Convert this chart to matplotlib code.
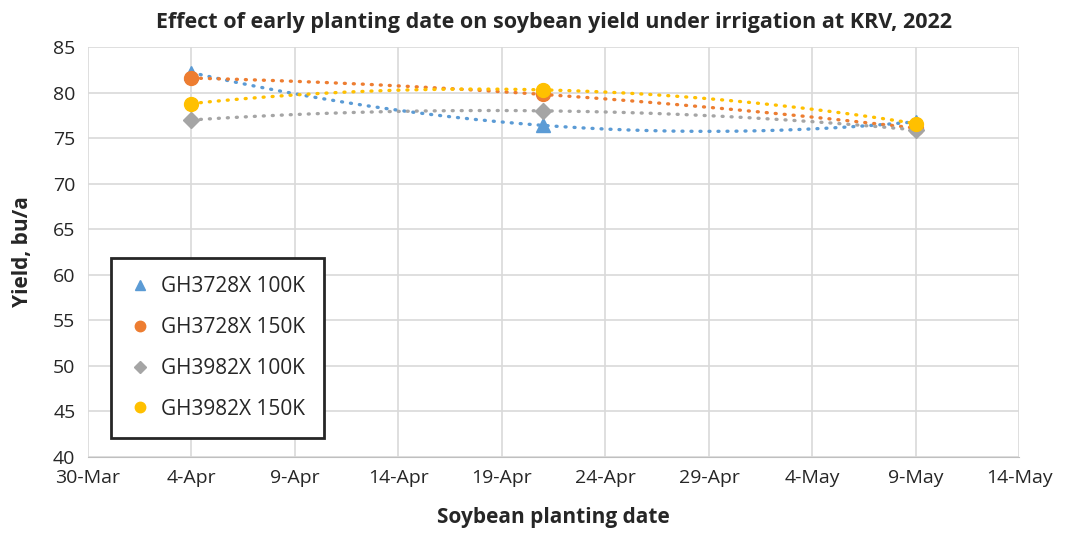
import datetime as dt
import numpy as np
import matplotlib
matplotlib.use("Agg")
import matplotlib.pyplot as plt
import matplotlib.dates as mdates

plt.rcParams['font.family'] = ['Open Sans', 'DejaVu Sans']

# data
dates = [dt.date(2022, 4, 4), dt.date(2022, 4, 21), dt.date(2022, 5, 9)]
names = ['GH3728X 100K', 'GH3728X 150K', 'GH3982X 100K', 'GH3982X 150K']
gh3728_100 = [82.2, 76.4, 76.8]
gh3728_150 = [81.6, 79.8, 76.1]
gh3982_100 = [77.0, 78.0, 75.9]
gh3982_150 = [78.8, 80.3, 76.6]

series = [gh3728_100, gh3728_150, gh3982_100, gh3982_150]
colors = ['#5B9BD5', '#ED7D31', '#A5A5A5', '#FFC000']
markers = ['^', 'o', 'D', 'o']
msizes = [10, 10, 8, 10]

fig = plt.figure(figsize=(10.72, 5.35), dpi=100)
ax = fig.add_axes([0.082, 0.146, 0.869, 0.766])

x = mdates.date2num(dates)
xs = np.linspace(x[0], x[-1], 200)

#trendlines (2nd order polynomial, dotted like excel)
for vals, c in zip(series, colors):
    coef = np.polyfit(x, vals, 2)
    ax.plot(xs, np.polyval(coef, xs), color=c, lw=2.4,
            linestyle=(0, (0.3, 2.4)), dash_capstyle='round', zorder=2)

for vals, c, m, s, n in zip(series, colors, markers, msizes, names):
    ax.plot(dates, vals, linestyle='none', marker=m, color=c,
            markersize=s, label=n, zorder=3)

ax.set_ylim(40, 85)
ax.set_yticks(range(40, 86, 5))
ax.set_xlim(dt.date(2022, 3, 30), dt.date(2022, 5, 14))
ticks = [dt.date(2022, 3, 30) + dt.timedelta(days=5 * i) for i in range(10)]
ax.set_xticks(ticks)
ax.set_xticklabels([f"{d.day}-{d.strftime('%b')}" for d in ticks])

ax.grid(True, color='#D9D9D9', lw=1.2)
ax.set_axisbelow(True)
for s in ['top', 'right', 'left']:
    ax.spines[s].set_visible(False)
ax.spines['bottom'].set_color('#BFBFBF')
ax.tick_params(length=0, labelsize=14, colors='#262626', pad=9)

ax.set_title('Effect of early planting date on soybean yield under irrigation at KRV, 2022',
             fontsize=15.5, fontweight='bold', color='#262626', pad=14)
ax.set_xlabel('Soybean planting date', fontsize=15, fontweight='bold', color='#262626', labelpad=14)
ax.set_ylabel('Yield, bu/a', fontsize=15, fontweight='bold', color='#262626', labelpad=14)

leg = ax.legend(loc='lower left', bbox_to_anchor=(0.025, 0.045),
                prop={'family': ['Open Sans', 'DejaVu Sans'], 'size': 15},
                frameon=True, fancybox=False, edgecolor='#262626', framealpha=1,
                labelspacing=0.95, handlelength=1.0, handletextpad=0.5,
                borderpad=0.9, borderaxespad=0, markerscale=0.75)
leg.get_frame().set_linewidth(2)
for t in leg.get_texts():
    t.set_color('#262626')

fig.savefig('out.png', dpi=100)
